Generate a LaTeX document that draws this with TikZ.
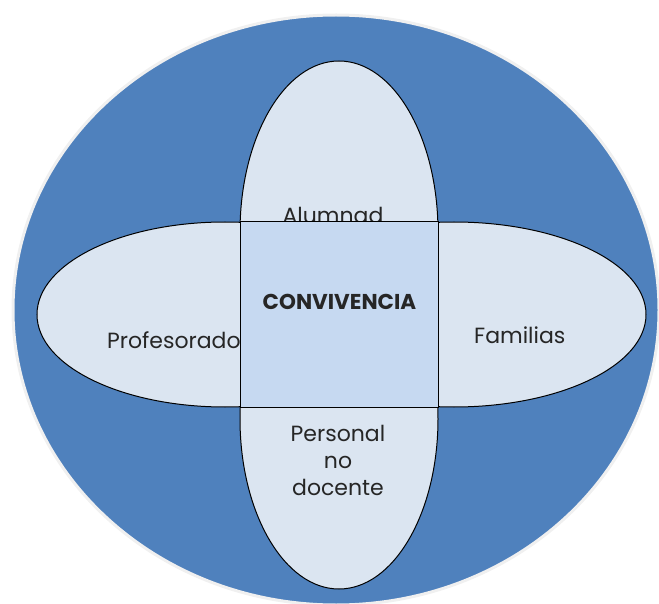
\documentclass[tikz,border=0pt]{standalone}
\usepackage{fontspec}
\setmainfont{Poppins}
\usetikzlibrary{shapes.geometric}
\definecolor{fondo}{HTML}{4F81BD}
\definecolor{claro}{HTML}{DBE5F1}
\definecolor{centro}{HTML}{C6D9F1}

\begin{document}
\begin{tikzpicture}[x=1pt,y=-1pt,
  petalo/.style={ellipse,draw=black,line width=1pt,fill=claro,inner sep=0pt},
  rotulo/.style={font=\fontsize{22}{27}\selectfont,text=black!85,inner sep=0pt}]
\useasboundingbox (0,0) rectangle (659,604); % --- page size

\node[ellipse,fill=fondo,draw=black!6,line width=3pt,inner sep=0pt,
  minimum width=646pt,minimum height=590pt] (fondo) at (336,310) {}; % big blue back

\node[petalo,minimum width=198pt,minimum height=342pt] (alumnado) at (339,232) {}; % top
\node[petalo,minimum width=198pt,minimum height=340pt] (personal) at (339,419) {}; % bottom
\node[petalo,minimum width=376pt,minimum height=185pt] (profesorado) at (225,314.5) {}; % left
\node[petalo,minimum width=384pt,minimum height=185pt] (familias) at (454,314.5) {}; % right

% ----- texts, the square is drawn over them
\node[rotulo,anchor=base] (talumnado) at (333,224) {Alumnad};
\node[rotulo,anchor=base west] (tprofesorado) at (107,348) {Profesorado};
\node[rotulo,anchor=base west] (tfamilias) at (474,343) {Familias};
\node[rotulo,align=center,anchor=base] (tpersonal) at (338,495) {Personal\\no\\docente}; % base = last line

\node[draw=black,line width=1pt,fill=centro,minimum width=198pt,minimum height=185pt,
  inner sep=0pt] (centro) at (339,314.5) {}; % --- middle square
\node[font=\fontsize{21.5}{24}\bfseries\selectfont,text=black!85,inner sep=0pt] (convivencia) at (339.5,302) {CONVIVENCIA};
\end{tikzpicture}
\end{document}
